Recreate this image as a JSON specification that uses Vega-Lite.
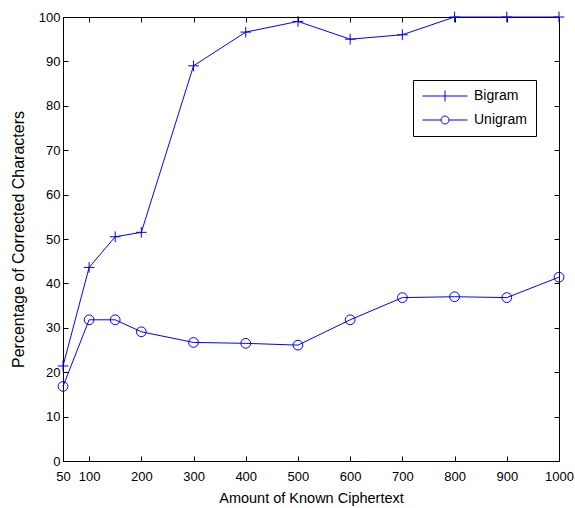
{
  "$schema": "https://vega.github.io/schema/vega-lite/v6.json",
  "width": 496,
  "height": 444,
  "autosize": {"type": "none"},
  "padding": {"left": 63, "top": 17, "right": 16, "bottom": 47},
  "background": "white",
  "config": {
    "view": {"stroke": "black", "strokeWidth": 1},
    "font": "Liberation Sans",
    "axis": {
      "grid": false,
      "domainColor": "black",
      "tickColor": "black",
      "labelColor": "black",
      "titleColor": "black",
      "labelFont": "Liberation Sans",
      "titleFont": "Liberation Sans",
      "labelFontSize": 13,
      "titleFontSize": 14,
      "titleFontWeight": "normal",
      "tickSize": -5,
      "labelFlush": false,
      "labelOverlap": false,
      "format": "d"
    }
  },
  "data": {
    "values": [
      {"n": 50, "pct": 21.4, "series": "Bigram"},
      {"n": 100, "pct": 43.6, "series": "Bigram"},
      {"n": 150, "pct": 50.5, "series": "Bigram"},
      {"n": 200, "pct": 51.5, "series": "Bigram"},
      {"n": 300, "pct": 89.0, "series": "Bigram"},
      {"n": 400, "pct": 96.6, "series": "Bigram"},
      {"n": 500, "pct": 99.0, "series": "Bigram"},
      {"n": 600, "pct": 95.0, "series": "Bigram"},
      {"n": 700, "pct": 96.0, "series": "Bigram"},
      {"n": 800, "pct": 100, "series": "Bigram"},
      {"n": 900, "pct": 100, "series": "Bigram"},
      {"n": 1000, "pct": 100, "series": "Bigram"},
      {"n": 50, "pct": 16.8, "series": "Unigram"},
      {"n": 100, "pct": 31.8, "series": "Unigram"},
      {"n": 150, "pct": 31.8, "series": "Unigram"},
      {"n": 200, "pct": 29.1, "series": "Unigram"},
      {"n": 300, "pct": 26.7, "series": "Unigram"},
      {"n": 400, "pct": 26.5, "series": "Unigram"},
      {"n": 500, "pct": 26.1, "series": "Unigram"},
      {"n": 600, "pct": 31.8, "series": "Unigram"},
      {"n": 700, "pct": 36.8, "series": "Unigram"},
      {"n": 800, "pct": 37.0, "series": "Unigram"},
      {"n": 900, "pct": 36.8, "series": "Unigram"},
      {"n": 1000, "pct": 41.4, "series": "Unigram"}
    ]
  },
  "layer": [
    {
      "mark": {"type": "line", "color": "#0000ff", "strokeWidth": 1},
      "encoding": {
        "x": {
          "field": "n", "type": "quantitative",
          "scale": {"domain": [50, 1000], "nice": false, "zero": false},
          "axis": {
            "orient": "bottom",
            "values": [50, 100, 200, 300, 400, 500, 600, 700, 800, 900, 1000],
            "labelPadding": 14,
            "title": "Amount of Known Ciphertext",
            "titlePadding": 8,
            "titleFontSize": 14.5
          }
        },
        "y": {
          "field": "pct", "type": "quantitative",
          "scale": {"domain": [0, 100], "nice": false},
          "axis": {
            "orient": "left",
            "values": [0, 10, 20, 30, 40, 50, 60, 70, 80, 90, 100],
            "labelPadding": 8,
            "title": "Percentage of Corrected Characters",
            "titleFontSize": 16,
            "titlePadding": 12
          }
        },
        "detail": {"field": "series"}
      }
    },
    {
      "mark": {"type": "point", "filled": false, "strokeWidth": 1, "color": "#0000ff", "opacity": 1, "size": 95},
      "encoding": {
        "x": {"field": "n", "type": "quantitative", "axis": null},
        "y": {"field": "pct", "type": "quantitative", "axis": null},
        "shape": {
          "field": "series", "type": "nominal",
          "scale": {"domain": ["Bigram", "Unigram"], "range": ["M-1.1,0L1.1,0M0,-1.1L0,1.1", "circle"]},
          "legend": null
        }
      }
    },
    {
      "mark": {"type": "point", "filled": false, "strokeWidth": 1, "color": "#0000ff", "opacity": 0, "size": 100},
      "encoding": {
        "x": {
          "field": "n", "type": "quantitative",
          "axis": {"orient": "top", "values": [50, 100, 200, 300, 400, 500, 600, 700, 800, 900, 1000], "labels": false, "title": null}
        },
        "y": {
          "field": "pct", "type": "quantitative",
          "axis": {"orient": "right", "values": [0, 10, 20, 30, 40, 50, 60, 70, 80, 90, 100], "labels": false, "title": null}
        },
        "shape": {
          "field": "series", "type": "nominal",
          "scale": {"domain": ["Bigram", "Unigram"], "range": ["M-4.5,0L4.5,0M0,-1.1L0,1.1", "M-4.5,0L-0.8,0M0.8,0L4.5,0M-0.8,0A0.8,0.8 0 1,0 0.8,0A0.8,0.8 0 1,0 -0.8,0"]},
          "legend": {
            "title": null,
            "orient": "none",
            "legendX": 350,
            "legendY": 63,
            "strokeColor": "black",
            "fillColor": "white",
            "padding": 9,
            "symbolSize": 100,
            "symbolOpacity": 1,
            "symbolStrokeColor": "#0000ff",
            "symbolStrokeWidth": 1,
            "symbolOffset": 16,
            "labelOffset": 22,
            "rowPadding": 9,
            "labelFontSize": 14,
            "labelColor": "black",
            "labelFont": "Liberation Sans"
          }
        }
      }
    }
  ],
  "resolve": {"axis": {"x": "independent", "y": "independent"}, "scale": {"shape": "independent"}}
}
